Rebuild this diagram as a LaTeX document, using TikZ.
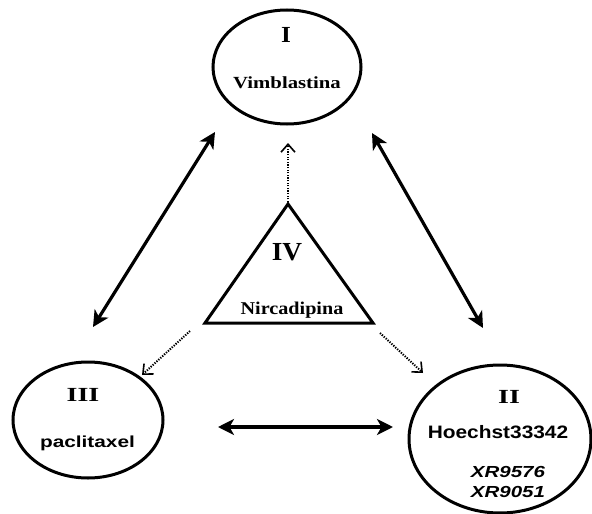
\documentclass[tikz,border=0pt]{standalone}
\usepackage{fontspec}
\setmainfont{Liberation Serif}
\setsansfont{Liberation Sans}
\usetikzlibrary{shapes.geometric,arrows.meta}
\tikzset{
  circ/.style={draw,ellipse,line width=3pt,inner sep=0pt},
  rom/.style={anchor=base,inner sep=0pt,font=\bfseries\rmfamily},
  drug/.style={anchor=base,inner sep=0pt},
  dbl/.style={line width=3.2pt,{Stealth[length=16pt,width=16pt,inset=4.5pt]}-{Stealth[length=16pt,width=16pt,inset=4.5pt]}},
  dot/.style={line width=2pt,dash pattern=on 1.3pt off 1.3pt,-{Straight Barb[length=8pt,width=14pt,line width=1.6pt]}},
}
\newcommand{\fsz}[1]{\fontsize{#1}{#1}\selectfont}
\begin{document}
\begin{tikzpicture}[x=1pt,y=-1pt]
\useasboundingbox (0,0) rectangle (592,514);
% ellipses
\node[circ,minimum width=148pt,minimum height=114pt] (I) at (287,67) {};
\node[circ,minimum width=150pt,minimum height=116pt] (III) at (88,420) {};
\node[circ,minimum width=182pt,minimum height=148pt] (II) at (500,439) {};
% triangle
\coordinate (apex) at (288,204);
\coordinate (bl) at (205,323);
\coordinate (br) at (373,323);
\draw[line width=3pt,line join=miter] (apex) -- (bl) -- (br) -- cycle;
% texts
\node[rom] (tI) at (286,42) {\scalebox{1.1}[1]{\fsz{23}I}};
\node[rom] (tVim) at (287,88) {\scalebox{1.22}[1]{\fsz{17}Vimblastina}};
\node[rom] (tIV) at (287,260) {\scalebox{1.05}[1]{\fsz{26}IV}};
\node[rom] (tNir) at (292,314) {\scalebox{1.12}[1]{\fsz{18}Nircadipina}};
\node[rom] (tIII) at (83,401) {\scalebox{1.4}[1]{\fsz{20}III}};
\node[drug] (tpac) at (87.5,447) {\scalebox{1.3}[1]{\fsz{16}\sffamily\bfseries paclitaxel}};
\node[rom] (tII) at (509,403) {\scalebox{1.4}[1]{\fsz{20}II}};
\node[drug] (tHoe) at (498,438) {\scalebox{1.16}[1]{\fsz{18}\sffamily\bfseries Hoechst33342}};
\node[drug] (tXR1) at (508,477) {\scalebox{1.28}[1]{\fsz{16}\sffamily\bfseries\itshape XR9576}};
\node[drug] (tXR2) at (508,497) {\scalebox{1.28}[1]{\fsz{16}\sffamily\bfseries\itshape XR9051}};
% arrow ends
\coordinate (a1) at (215,132); \coordinate (a2) at (93,327);
\coordinate (b1) at (372,133); \coordinate (b2) at (483,328);
\coordinate (c1) at (218,427); \coordinate (c2) at (393,427);
\coordinate (d1) at (288,202); \coordinate (d2) at (288,143);
\coordinate (e1) at (190,331); \coordinate (e2) at (142,375);
\coordinate (f1) at (380,333); \coordinate (f2) at (423,373);
\draw[dbl] (a2) -- (a1);
\draw[dbl] (b1) -- (b2);
\draw[dbl] (c1) -- (c2);
\draw[dot] (d1) -- (d2);
\draw[dot] (e1) -- (e2);
\draw[dot] (f1) -- (f2);
\end{tikzpicture}
\end{document}
